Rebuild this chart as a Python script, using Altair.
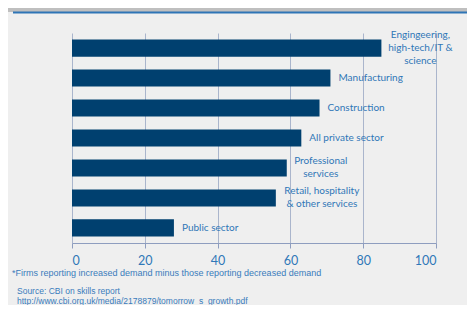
import altair as alt
import pandas as pd

sectors = ["Engineering", "Manufacturing", "Construction", "All private sector",
           "Professional services", "Retail, hospitality & other services", "Public sector"]
labels = ["Engingeering,\nhigh-tech/IT &\nscience", "Manufacturing", "Construction",
          "All private sector", "Professional\nservices", "Retail, hospitality\n& other services",
          "Public sector"]
values = [85, 71, 68, 63, 59, 56, 28]
x_ticks = [0, 20, 40, 60, 80, 100]
footnote = "*Firms reporting increased demand minus those reporting decreased demand"
source_lines = ["Source: CBI on skills report",
                "http://www.cbi.org.uk/media/2178879/tomorrow_s_growth.pdf"]

df = pd.DataFrame({"sector": sectors, "label": labels, "value": values})

LABEL_COLOR = "#2f77b7"
FONT = "Lato"
LINE_H = 13

y_enc = alt.Y("sector:N", sort=sectors, axis=None,
              scale=alt.Scale(paddingInner=0.43, paddingOuter=0.22))
x_enc = alt.X("value:Q", scale=alt.Scale(domain=[0, 100], nice=False),
              axis=alt.Axis(values=x_ticks, title=None, grid=True, gridColor="#aab5cc",
                            domainColor="#8e9dbf", tickColor="#8e9dbf", tickSize=5,
                            labelFontSize=12.5, labelColor="#2f78b8", labelFont=FONT,
                            labelPadding=6))

base = alt.Chart(df)

bars = base.mark_bar(color="#00406f").encode(x=x_enc, y=y_enc)

single = [s for s, l in zip(sectors, labels) if "\n" not in l]
single_text = base.transform_filter(
    alt.FieldOneOfPredicate(field="sector", oneOf=single)
).mark_text(align="left", baseline="middle", dx=8, font=FONT, fontSize=10,
            color=LABEL_COLOR).encode(x="value:Q", y=y_enc, text="label:N")

multi_dx = {"Engineering": 39, "Professional services": 34,
            "Retail, hospitality & other services": 46}
multi_layers = []
for s, dxv in multi_dx.items():
    n_lines = labels[sectors.index(s)].count("\n") + 1
    multi_layers.append(
        base.transform_filter(alt.datum.sector == s)
        .mark_text(align="center", baseline="middle", dx=dxv, dy=-(n_lines - 1) * LINE_H / 2,
                   font=FONT, fontSize=10, lineBreak="\n", lineHeight=LINE_H, color=LABEL_COLOR)
        .encode(x="value:Q", y=y_enc, text="label:N")
    )

one = pd.DataFrame({"a": [0]})
band = alt.Chart(one).mark_rect(color="#bfbfbf").encode(
    x=alt.value(-64), x2=alt.value(395), y=alt.value(-33), y2=alt.value(-21))
blue_line = alt.Chart(one).mark_rule(color="#2e75b6", strokeWidth=2).encode(
    x=alt.value(-59), x2=alt.value(395), y=alt.value(-20.5))

foot = alt.Chart(pd.DataFrame({"t": [footnote]})).mark_text(
    align="left", baseline="middle", font="Liberation Sans", fontSize=9, color="#3a7cbc"
).encode(x=alt.value(-60), y=alt.value(240), text="t:N")

src_layers = []
for line, yv in zip(source_lines, [258, 267.5]):
    src_layers.append(
        alt.Chart(pd.DataFrame({"t": [line]})).mark_text(
            align="left", baseline="middle", font="Liberation Sans", fontSize=8.5,
            color="#3a7cbc"
        ).encode(x=alt.value(-55), y=alt.value(yv), text="t:N")
    )

chart = alt.layer(band, blue_line, bars, single_text, *multi_layers, foot, *src_layers).properties(
    width=364, height=210, background="#efefef",
    autosize=alt.AutoSizeParams(type="none"),
    padding={"left": 64, "top": 25, "right": 31, "bottom": 62},
).configure_view(stroke=None)

chart.save("out.html", embed_options={"renderer": "svg", "actions": False})
